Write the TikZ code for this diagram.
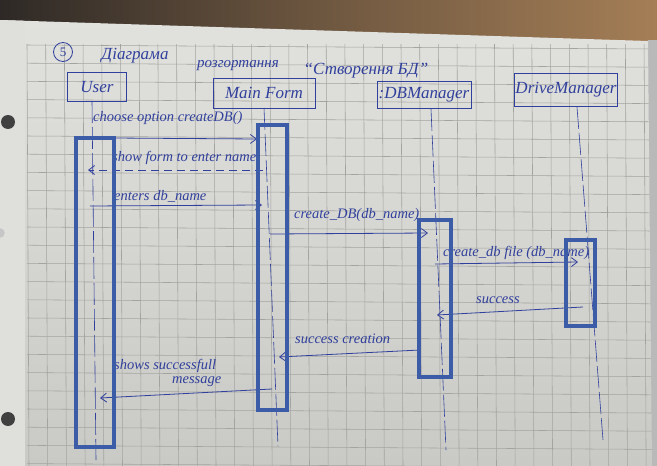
\documentclass[tikz,border=0pt]{standalone}
\usepackage{fontspec}
\setmainfont{Liberation Serif}
\usetikzlibrary{arrows.meta}
\definecolor{ink}{HTML}{30409C}
\definecolor{frame}{HTML}{3C5CA8}
\definecolor{paperhi}{HTML}{E2E2DE}
\definecolor{paperlo}{HTML}{C9C9C5}
\definecolor{gridc}{HTML}{A3A3A0}
\definecolor{woodA}{HTML}{2E2926}
\definecolor{woodB}{HTML}{A47E56}
\begin{document}
\begin{tikzpicture}[x=1pt,y=-1pt,
  actor/.style={draw=ink, line width=0.9pt, inner sep=1pt, text=ink,
    font=\fontsize{17}{18}\selectfont\itshape},
  lbl/.style={text=ink, inner sep=0pt, font=\fontsize{14.5}{15}\selectfont\itshape},
  ttl/.style={text=ink, inner sep=0pt, font=\fontsize{17}{18}\selectfont\itshape},
  msg/.style={draw=ink, line width=0.8pt, -{Straight Barb[length=6pt,width=9pt]}},
  reply/.style={msg, dash pattern=on 8pt off 5pt},
  life/.style={draw=ink, line width=0.6pt, dash pattern=on 22pt off 4pt},
  actbox/.style={draw=frame, line width=3.6pt, inner sep=0pt},
  hole/.style={fill=#1, draw=none, circle}
]
\useasboundingbox (0,0) rectangle (657,466);

% table and shadow behind the sheet
\shade[left color=woodA, right color=woodB, middle color=woodA!45!woodB] (0,0) rectangle (657,466);
\fill[gray!55] (648,40) rectangle (657,466);

% the sheet of squared paper
\begin{scope}
  \clip (0,20) -- (648,41) -- (652,466) -- (0,466) -- cycle;
  \shade[top color=paperhi, bottom color=paperlo] (0,0) rectangle (657,466);
  \foreach \i in {0,...,33}
    \draw[gridc, line width=0.55pt] ({27+18.7*\i},44) -- ({29+18.7*\i},466);
  \foreach \j in {0,...,23}
    \draw[gridc, line width=0.55pt] (27,{45+18.2*\j}) -- (652,{49+18.2*\j});
  \fill[paperhi!90!paperlo] (0,20) rectangle (25,466);
\end{scope}

% punched holes
\node[hole=black!75, minimum size=14pt] (h1) at (8,122) {};
\node[hole=gray!45, minimum size=9pt] (h2) at (0,233) {};
\node[hole=black!75, minimum size=14pt] (h3) at (8,419) {};

% heading
\node[draw=ink, circle, line width=0.8pt, minimum size=19pt, inner sep=0pt, text=ink,
  font=\fontsize{13}{14}\selectfont] (num) at (63,52) {5};
\node[ttl] (t1) at (135,56) {Діаграма};
\node[ttl, font=\fontsize{15}{16}\selectfont\itshape] (t2) at (238,66) {розгортання};
\node[ttl] (t3) at (366,71) {“Створення БД”};

% participants
\node[actor, minimum width=59pt, minimum height=29pt] (user) at (97,87) {User};
\node[actor, minimum width=102pt, minimum height=30pt] (form) at (264,93) {Main Form};
\node[actor, minimum width=94pt, minimum height=27pt] (dbm) at (424,95) {:DBManager};
\node[actor, minimum width=103pt, minimum height=33pt] (drv) at (566,90) {DriveManager};

% lifelines
\coordinate (userTop) at (92,101);
\coordinate (userBot) at (96,460);
\coordinate (formTop) at (264,108);
\coordinate (formBot) at (278,446);
\coordinate (dbmTop) at (431,109);
\coordinate (dbmBot) at (446,450);
\coordinate (drvTop) at (577,107);
\coordinate (drvBot) at (603,440);
\draw[life] (userTop) -- (userBot);
\draw[life] (formTop) -- (formBot);
\draw[life] (dbmTop) -- (dbmBot);
\draw[life] (drvTop) -- (drvBot);

% messages
\coordinate (m1a) at (113,138); \coordinate (m1b) at (257,139);
\draw[msg] (m1a) -- (m1b);
\node[lbl, anchor=west] (l1) at (93,118) {choose option createDB()};

\coordinate (m2a) at (263,170); \coordinate (m2b) at (88,170);
\draw[reply] (m2a) -- (m2b);
\node[lbl, anchor=west] (l2) at (112,158) {show form to enter name};

\coordinate (m3a) at (90,206); \coordinate (m3b) at (262,205);
\draw[msg] (m3a) -- (m3b);
\node[lbl, anchor=west] (l3) at (114,196) {enters db\_name};

\coordinate (m4a) at (270,234); \coordinate (m4b) at (428,233);
\draw[msg] (m4a) -- (m4b);
\node[lbl, anchor=west] (l4) at (294,215) {create\_DB(db\_name)};

\coordinate (m5a) at (435,264); \coordinate (m5b) at (578,262);
\draw[msg] (m5a) -- (m5b);
\node[lbl, anchor=west] (l5) at (443,253) {create\_db file (db\_name)};

\coordinate (m6a) at (583,307); \coordinate (m6b) at (437,315);
\draw[msg] (m6a) -- (m6b);
\node[lbl, anchor=west] (l6) at (476,300) {success};

\coordinate (m7a) at (420,350); \coordinate (m7b) at (279,357);
\draw[msg] (m7a) -- (m7b);
\node[lbl, anchor=west] (l7) at (295,339) {success creation};

\coordinate (m8a) at (272,389); \coordinate (m8b) at (100,398);
\draw[msg] (m8a) -- (m8b);
\node[lbl, anchor=west] (l8) at (114,366) {shows successfull};
\node[lbl, anchor=west] (l8b) at (172,382) {message};

% activation frames
\node[actbox, minimum width=38pt, minimum height=309pt] (userAct) at (95,292.5) {};
\node[actbox, minimum width=29pt, minimum height=285pt] (formAct) at (272.5,267.5) {};
\node[actbox, minimum width=32pt, minimum height=157pt] (dbmAct) at (435,298.5) {};
\node[actbox, minimum width=29pt, minimum height=86pt] (drvAct) at (580.5,283) {};
\end{tikzpicture}
\end{document}
